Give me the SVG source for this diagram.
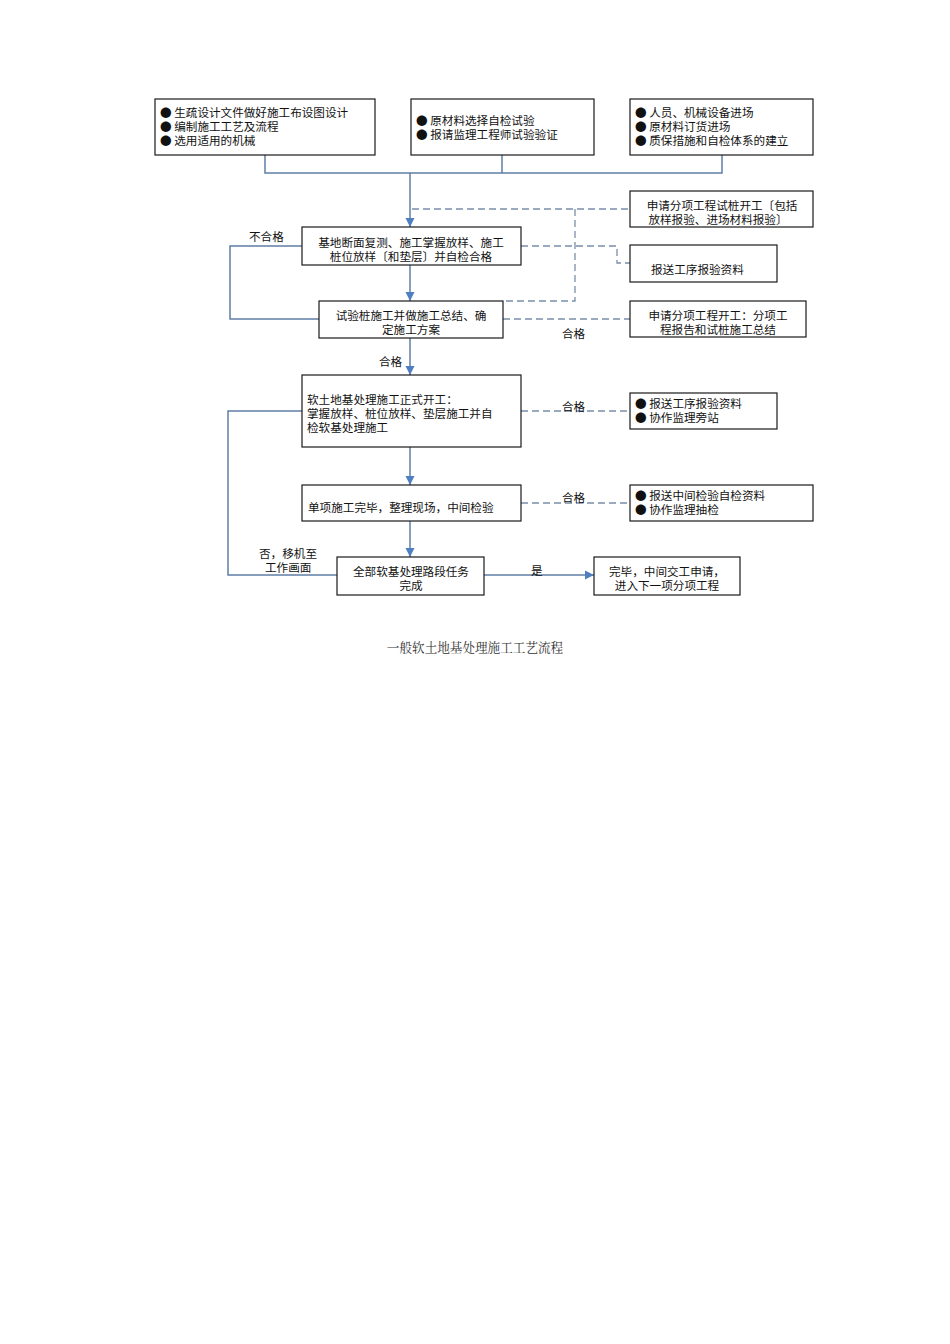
<svg xmlns="http://www.w3.org/2000/svg" width="950" height="1344" viewBox="0 0 950 1344">
<style>
.box{fill:#fff;stroke:#1a1a1a;stroke-width:1.2}
.t{font-family:"Noto Sans CJK SC","Noto Sans",sans-serif;font-size:11.6px;fill:#111}
.c{text-anchor:middle}
.ln{fill:none;stroke:#5f7ea6;stroke-width:1.5}
.dl{fill:none;stroke:#7a8fa9;stroke-width:1.3;stroke-dasharray:7,4}
.cap{font-family:"Noto Serif CJK SC","Noto Sans CJK SC",serif;font-size:12.6px;fill:#333;text-anchor:middle}
</style>
<defs>
<marker id="ah" viewBox="0 0 10 10" refX="10" refY="5" markerWidth="9" markerHeight="10" markerUnits="userSpaceOnUse" orient="auto">
<path d="M0,0 L10,5 L0,10 z" fill="#4f7fc0"/>
</marker>
</defs>
<g id="connectors">
<path class="ln" d="M265,155 V173 H722 V155 M502,155 V173"/>
<path class="ln" d="M410,173 V227" marker-end="url(#ah)"/>
<path class="ln" d="M410,265 V301" marker-end="url(#ah)"/>
<path class="ln" d="M410,338 V375" marker-end="url(#ah)"/>
<path class="ln" d="M410,447 V485" marker-end="url(#ah)"/>
<path class="ln" d="M410,521 V557" marker-end="url(#ah)"/>
<path class="ln" d="M484,575 H594" marker-end="url(#ah)"/>
<path class="ln" d="M302,246 H230 V319 H319"/>
<path class="ln" d="M337,575 H228 V411 H302"/>
<path class="dl" d="M412,209 H630"/>
<path class="dl" d="M575,209 V301 H503"/>
<path class="dl" d="M521,246 H617 V263 H630"/>
<path class="dl" d="M503,319 H630"/>
<path class="dl" d="M521,411 H630"/>
<path class="dl" d="M521,503 H630"/>
<text class="t" x="249" y="241">不合格</text>
<text class="t" x="562" y="338">合格</text>
<text class="t" x="379" y="366">合格</text>
<text class="t" x="562" y="411">合格</text>
<text class="t" x="562" y="502">合格</text>
<text class="t" x="531" y="575">是</text>
<text class="t" x="259" y="558">否，移机至</text>
<text class="t" x="265" y="572">工作画面</text>
</g>
<g id="n1"><rect class="box" x="155" y="99" width="220" height="56"/>
<text class="t" x="160" y="117">● 生疏设计文件做好施工布设图设计</text>
<text class="t" x="160" y="131">● 编制施工工艺及流程</text>
<text class="t" x="160" y="145">● 选用适用的机械</text></g>
<g id="n2"><rect class="box" x="411" y="99" width="183" height="56"/>
<text class="t" x="416" y="125">● 原材料选择自检试验</text>
<text class="t" x="416" y="139">● 报请监理工程师试验验证</text></g>
<g id="n3"><rect class="box" x="630" y="99" width="183" height="56"/>
<text class="t" x="635" y="117">● 人员、机械设备进场</text>
<text class="t" x="635" y="131">● 原材料订货进场</text>
<text class="t" x="635" y="145">● 质保措施和自检体系的建立</text></g>
<g id="n4"><rect class="box" x="630" y="191" width="183" height="36"/>
<text class="t c" x="722" y="210">申请分项工程试桩开工〔包括</text>
<text class="t c" x="718" y="224">放样报验、进场材料报验〕</text></g>
<g id="n5"><rect class="box" x="302" y="227" width="219" height="38"/>
<text class="t c" x="411" y="247">基地断面复测、施工掌握放样、施工</text>
<text class="t c" x="411" y="261">桩位放样〔和垫层〕并自检合格</text></g>
<g id="n6"><rect class="box" x="630" y="245" width="147" height="37"/>
<text class="t" x="651" y="274">报送工序报验资料</text></g>
<g id="n7"><rect class="box" x="319" y="301" width="184" height="37"/>
<text class="t c" x="411" y="320">试验桩施工并做施工总结、确</text>
<text class="t c" x="411" y="334">定施工方案</text></g>
<g id="n8"><rect class="box" x="630" y="301" width="176" height="36"/>
<text class="t c" x="718" y="320">申请分项工程开工：分项工</text>
<text class="t c" x="718" y="334">程报告和试桩施工总结</text></g>
<g id="n9"><rect class="box" x="302" y="375" width="219" height="72"/>
<text class="t" x="307" y="404">软土地基处理施工正式开工：</text>
<text class="t" x="307" y="418">掌握放样、桩位放样、垫层施工并自</text>
<text class="t" x="307" y="432">检软基处理施工</text></g>
<g id="n10"><rect class="box" x="630" y="393" width="147" height="36"/>
<text class="t" x="635" y="408">● 报送工序报验资料</text>
<text class="t" x="635" y="422">● 协作监理旁站</text></g>
<g id="n11"><rect class="box" x="302" y="485" width="219" height="36"/>
<text class="t" x="308" y="512">单项施工完毕，整理现场，中间检验</text></g>
<g id="n12"><rect class="box" x="630" y="485" width="183" height="36"/>
<text class="t" x="635" y="500">● 报送中间检验自检资料</text>
<text class="t" x="635" y="514">● 协作监理抽检</text></g>
<g id="n13"><rect class="box" x="337" y="557" width="147" height="38"/>
<text class="t c" x="411" y="576">全部软基处理路段任务</text>
<text class="t c" x="411" y="590">完成</text></g>
<g id="n14"><rect class="box" x="594" y="557" width="146" height="38"/>
<text class="t c" x="667" y="576">完毕，中间交工申请，</text>
<text class="t c" x="667" y="590">进入下一项分项工程</text></g>
<text class="cap" x="475" y="652">一般软土地基处理施工工艺流程</text>
</svg>
